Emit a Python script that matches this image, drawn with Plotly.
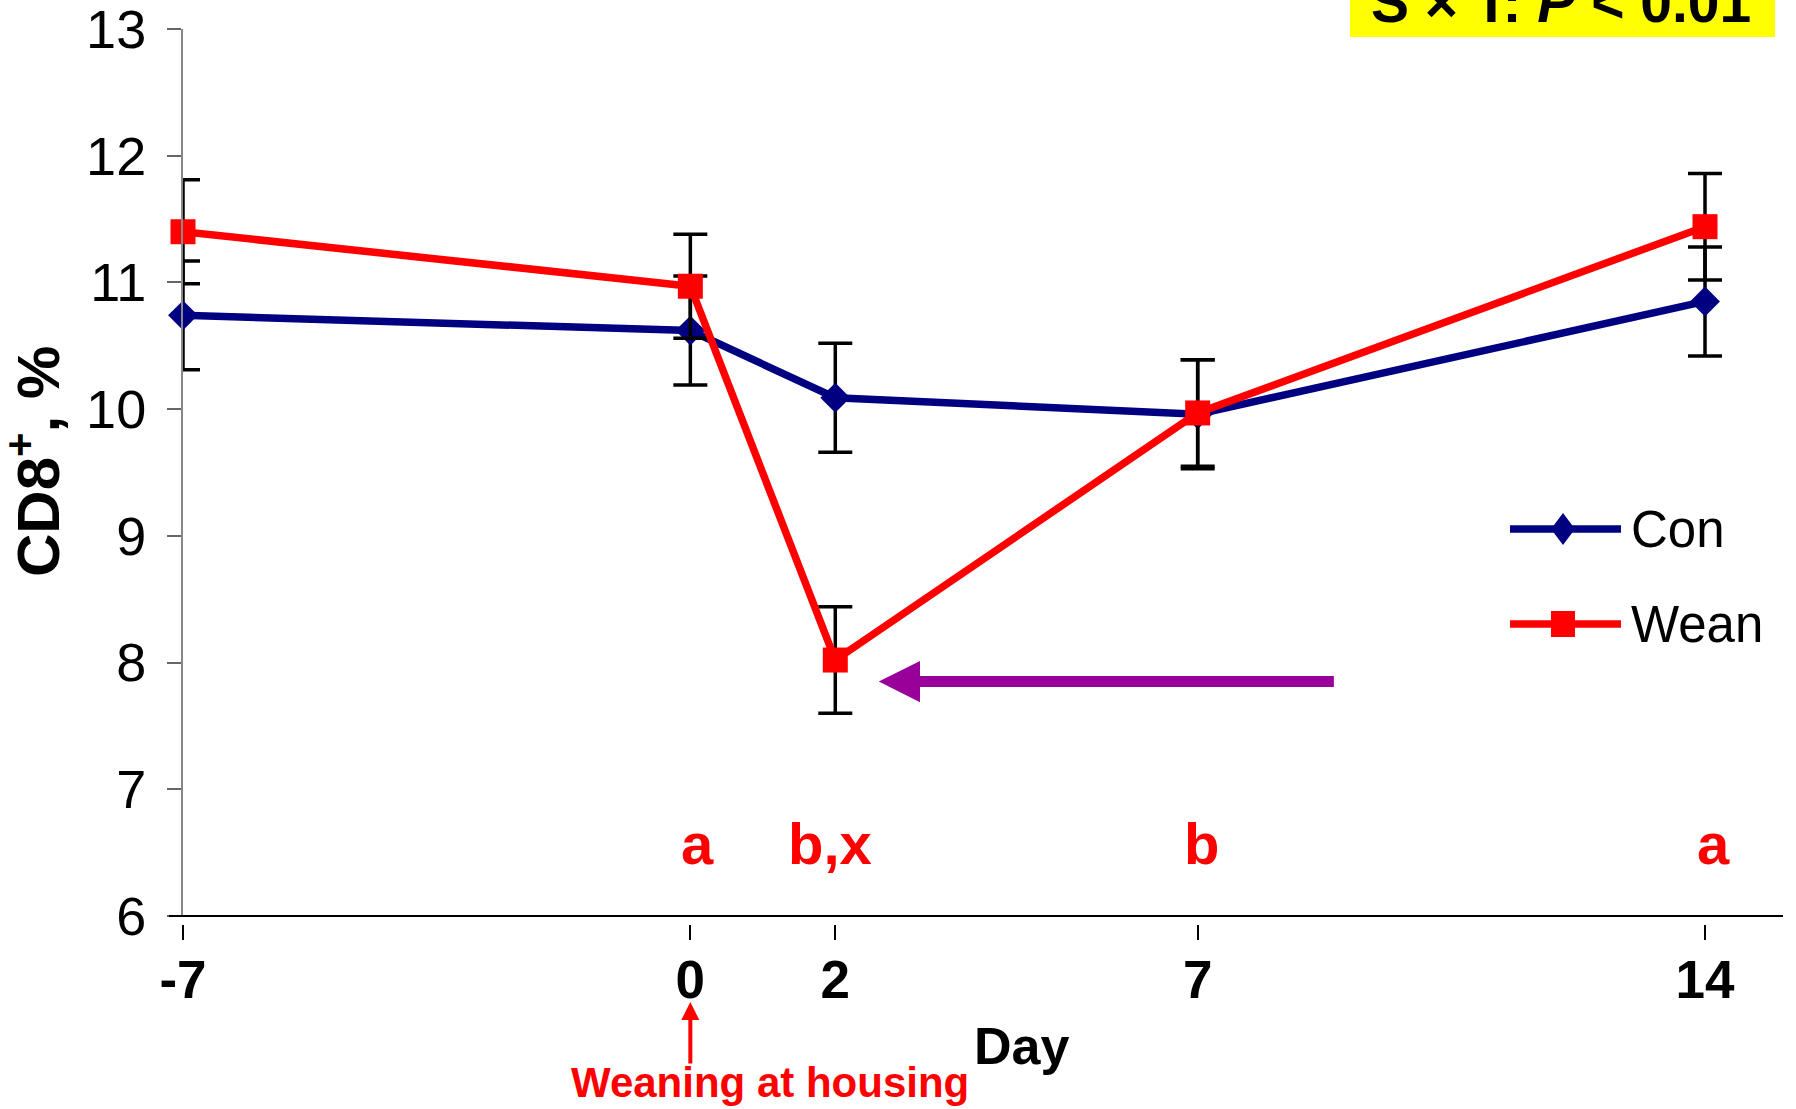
import plotly.graph_objects as go

# ---------------- data ----------------
days = [-7, 0, 2, 7, 14]
day_labels = ["-7", "0", "2", "7", "14"]
con_mean = [10.74, 10.62, 10.09, 9.96, 10.85]
con_sem = [0.43, 0.43, 0.43, 0.43, 0.43]
wean_mean = [11.40, 10.97, 8.02, 9.97, 11.44]
wean_sem = [0.41, 0.41, 0.42, 0.42, 0.42]
letter_days = [0, 2, 7, 14]
letter_text = ["a", "b,x", "b", "a"]
y_ticks = [6, 7, 8, 9, 10, 11, 12, 13]

# ---------------- layout helpers ----------------
W, H = 1796, 1109
ML, MR, MT, MB = 183, 13, 29, 185
PW = W - ML - MR
PH = H - MT - MB
AXIS_PY = 916                      # pixel row of the x axis line
DOM0 = (H - MB - AXIS_PY) / PH


def px(xp):
    return (xp - ML) / PW


def py(yp):
    return (H - MB - yp) / PH


FONT = "Liberation Sans, Arial, sans-serif"
NAVY = "#000080"
RED = "#FF0000"
PURPLE = "#990099"

fig = go.Figure()
fig.add_trace(go.Scatter(
    x=days, y=con_mean, name="Con", mode="lines+markers",
    line=dict(color=NAVY, width=7.5),
    marker=dict(symbol="diamond", size=23, color=NAVY),
    error_y=dict(type="data", array=con_sem, visible=True, color="black",
                 thickness=3.5, width=17),
    cliponaxis=False, showlegend=False))
fig.add_trace(go.Scatter(
    x=days, y=wean_mean, name="Wean", mode="lines+markers",
    line=dict(color=RED, width=7.5),
    marker=dict(symbol="square", size=25, color=RED),
    error_y=dict(type="data", array=wean_sem, visible=True, color="black",
                 thickness=3.5, width=17),
    cliponaxis=False, showlegend=False))

shapes = []
annotations = []

# x axis line
shapes.append(dict(type="line", xref="paper", yref="paper",
                   x0=px(169), x1=1, y0=DOM0, y1=DOM0,
                   line=dict(color="black", width=2)))

# yellow statistics box (partially cut at the top)
shapes.append(dict(type="rect", xref="paper", yref="paper",
                   x0=px(1350), x1=px(1775), y0=py(37), y1=py(-40),
                   fillcolor="#FFFF00", line=dict(width=0)))
annotations.append(dict(xref="paper", yref="paper", x=px(1561), y=py(2),
                        text="S × T: <i>P</i> < 0.01", showarrow=False,
                        xanchor="center", yanchor="middle",
                        font=dict(family=FONT, size=57, color="black", weight="bold")))

# manual legend
for name, color, ypix in [("Con", NAVY, 529), ("Wean", RED, 624)]:
    shapes.append(dict(type="line", xref="paper", yref="paper",
                       x0=px(1510), x1=px(1621), y0=py(ypix), y1=py(ypix),
                       line=dict(color=color, width=7.5)))
    if name == "Con":
        shapes.append(dict(type="path", xref="paper", yref="paper",
                           xsizemode="pixel", ysizemode="pixel",
                           xanchor=px(1563), yanchor=py(ypix),
                           path="M -12 0 L 0 16 L 12 0 L 0 -16 Z",
                           fillcolor=color, line=dict(width=0)))
    else:
        shapes.append(dict(type="rect", xref="paper", yref="paper",
                           xsizemode="pixel", ysizemode="pixel",
                           xanchor=px(1563), yanchor=py(ypix),
                           x0=-12, x1=12, y0=-13, y1=13,
                           fillcolor=color, line=dict(width=0)))
    annotations.append(dict(xref="paper", yref="paper", x=px(1629), y=py(ypix),
                            text=name, showarrow=False, xanchor="left",
                            yanchor="middle",
                            font=dict(family=FONT, size=51, color="black")))

# significance letters
letter_shift = [7, -5, 4, 8]
for d, t, s in zip(letter_days, letter_text, letter_shift):
    annotations.append(dict(xref="x", yref="y", x=d, y=6.57, text=t,
                            showarrow=False, xshift=s,
                            font=dict(family=FONT, size=58, color=RED, weight="bold")))

# purple arrow
annotations.append(dict(xref="x", yref="y", axref="x", ayref="y",
                        x=2.6, y=7.85, ax=8.9, ay=7.85, text="",
                        showarrow=True, arrowhead=2, arrowsize=0.75,
                        arrowwidth=11, arrowcolor=PURPLE, standoff=0))

# weaning arrow + label
annotations.append(dict(xref="x", yref="paper", x=0, y=py(1002),
                        ax=0, ay=63, text="", showarrow=True,
                        arrowhead=2, arrowsize=0.9, arrowwidth=4,
                        arrowcolor=RED, standoff=0))
annotations.append(dict(xref="paper", yref="paper", x=px(770), y=py(1082),
                        text="Weaning at housing", showarrow=False,
                        xanchor="center", yanchor="middle",
                        font=dict(family=FONT, size=42, color=RED, weight="bold")))

# axis titles
annotations.append(dict(xref="paper", yref="paper", x=px(1021), y=py(1046),
                        text="Day", showarrow=False, xanchor="center",
                        yanchor="middle",
                        font=dict(family=FONT, size=52, color="black", weight="bold")))
annotations.append(dict(xref="paper", yref="paper", x=px(34), y=py(462),
                        text="CD8<sup>+</sup>, %", showarrow=False,
                        textangle=-90, xanchor="center", yanchor="middle",
                        font=dict(family=FONT, size=60, color="black", weight="bold")))

fig.update_layout(
    width=W, height=H,
    margin=dict(l=ML, r=MR, t=MT, b=MB, pad=0, autoexpand=False),
    paper_bgcolor="white", plot_bgcolor="white",
    font=dict(family=FONT, color="black"),
    xaxis=dict(range=[-7, 15.076], anchor="free", position=0,
               tickvals=days, ticktext=day_labels, automargin=False,
               ticks="outside", ticklen=15, tickwidth=2, tickcolor="black",
               showline=False, showgrid=False, zeroline=False,
               ticklabelstandoff=-6,
               tickfont=dict(family=FONT, size=53, color="black", weight="bold")),
    yaxis=dict(range=[6, 13], domain=[DOM0, 1], tickvals=y_ticks,
               automargin=False,
               ticks="outside", ticklen=14, tickwidth=2, tickcolor="#666666",
               showline=True, linecolor="#888888", linewidth=2,
               showgrid=False, zeroline=False, ticklabelstandoff=10,
               ticklabeloverflow="allow",
               tickfont=dict(family=FONT, size=54, color="black")),
    shapes=shapes, annotations=annotations,
)

fig.write_html("out.html", config={"displayModeBar": False},
               post_script="document.body.style.margin='0';document.body.style.overflow='hidden';")
